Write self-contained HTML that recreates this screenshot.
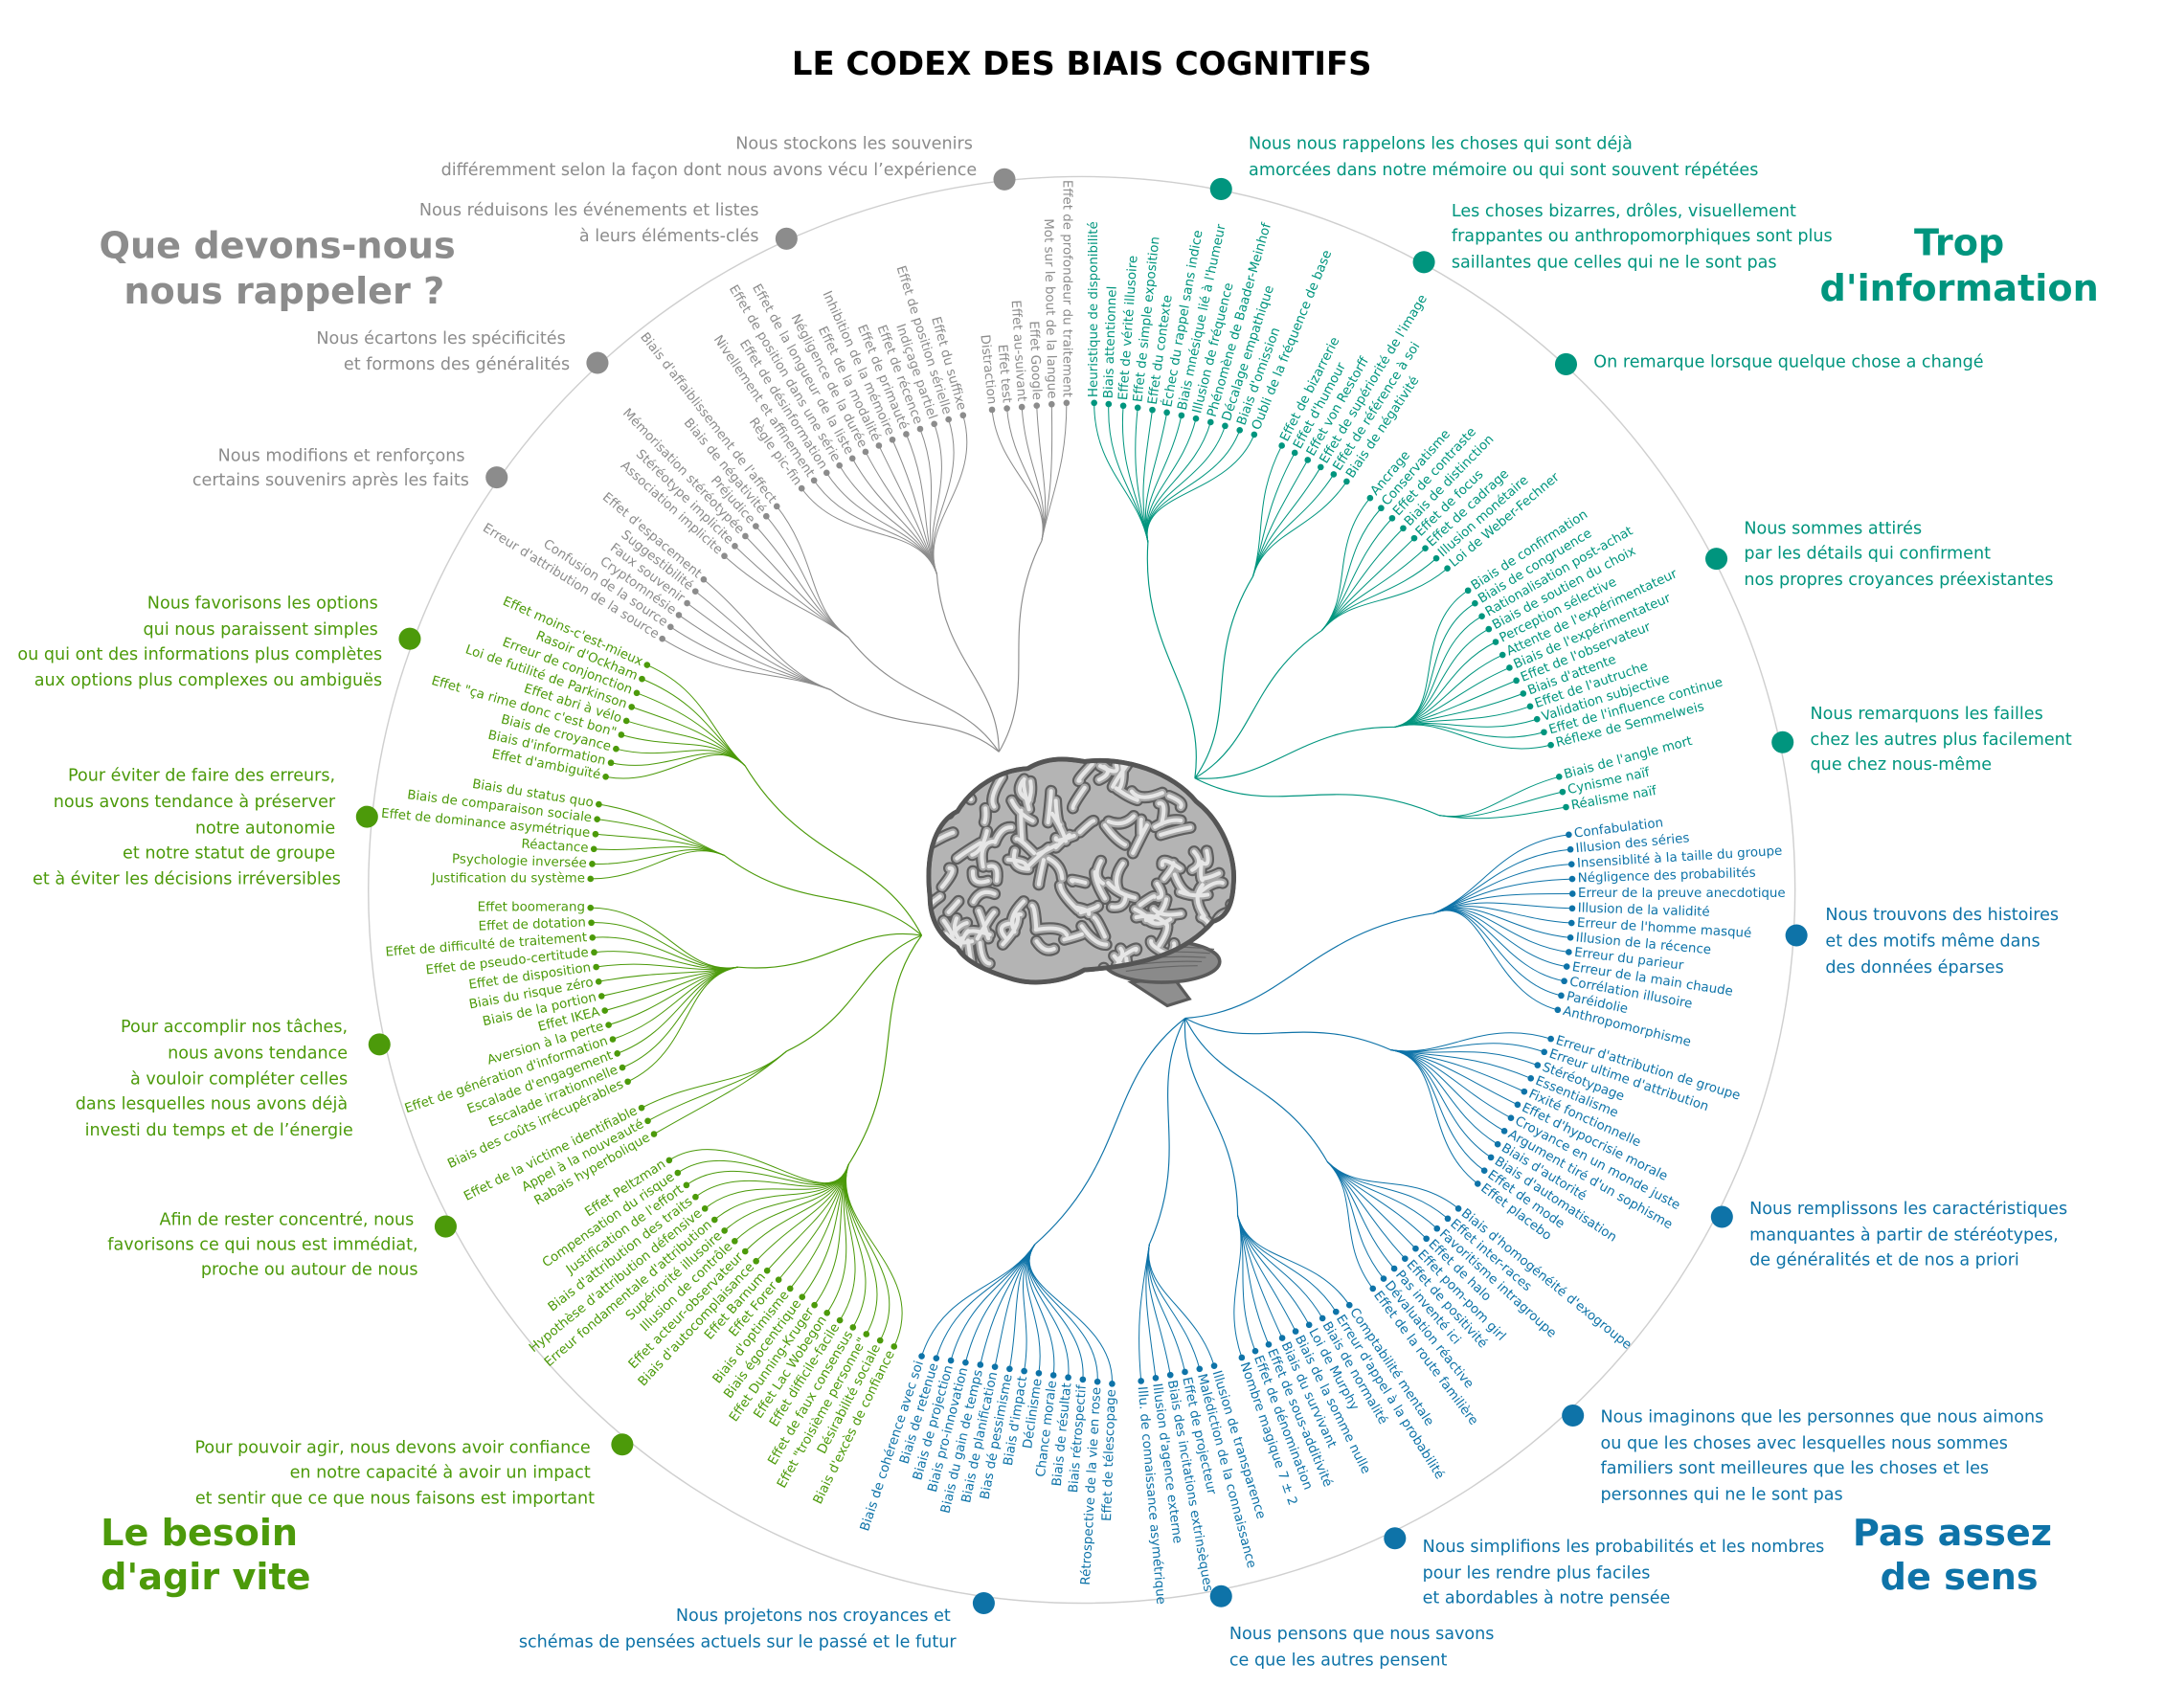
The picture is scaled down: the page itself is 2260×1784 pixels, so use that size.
<!DOCTYPE html>
<html><head><meta charset="utf-8"><title>Le codex des biais cognitifs</title>
<style>
html,body{margin:0;padding:0;background:#fff;}
svg{display:block;}
text{font-family:"DejaVu Sans","Liberation Sans",sans-serif;}
.leaf{font-size:9.3px;}
.desc{font-size:12.2px;}
.cat{font-size:26.5px;font-weight:bold;}
</style></head>
<body>
<svg id="s" xmlns="http://www.w3.org/2000/svg" width="2260" height="1784" viewBox="0 0 1568.4 1238" preserveAspectRatio="none">
<rect x="0" y="0" width="1568.4" height="1238" fill="#fff"/>
<text x="784" y="54" text-anchor="middle" style="font-size:23.5px;font-weight:bold;fill:#000">LE CODEX DES BIAIS COGNITIFS</text>
<circle cx="784" cy="645" r="517" fill="none" stroke="#cfcfcf" stroke-width="1"/>
<g id="lines"></g>
<g id="brain"></g>
<g id="labels"></g>

<text class="cat" x="201" y="187" text-anchor="middle" fill="#8c8c8c">Que devons-nous</text>
<text class="cat" x="206" y="220" text-anchor="middle" fill="#8c8c8c">nous rappeler ?</text>
<text class="cat" x="1420" y="185" text-anchor="middle" fill="#00957e">Trop</text>
<text class="cat" x="1420" y="218" text-anchor="middle" fill="#00957e">d'information</text>
<text class="cat" x="73" y="1120" fill="#4c9a0a">Le besoin</text>
<text class="cat" x="73" y="1152" fill="#4c9a0a">d'agir vite</text>
<text class="cat" x="1415" y="1120" text-anchor="middle" fill="#0e73a8">Pas assez</text>
<text class="cat" x="1420" y="1152" text-anchor="middle" fill="#0e73a8">de sens</text>

<g fill="#8c8c8c">
<text class="desc" x="705" y="108" text-anchor="end">Nous stockons les souvenirs</text>
<text class="desc" x="708" y="127" text-anchor="end">différemment selon la façon dont nous avons vécu l’expérience</text>
<text class="desc" x="550" y="156" text-anchor="end">Nous réduisons les événements et listes</text>
<text class="desc" x="550" y="175" text-anchor="end">à leurs éléments-clés</text>
<text class="desc" x="410" y="249" text-anchor="end">Nous écartons les spécificités</text>
<text class="desc" x="413" y="268" text-anchor="end">et formons des généralités</text>
<text class="desc" x="337" y="334" text-anchor="end">Nous modifions et renforçons</text>
<text class="desc" x="340" y="352" text-anchor="end">certains souvenirs après les faits</text>
<circle cx="728" cy="130" r="8"/><circle cx="570" cy="173" r="8"/><circle cx="433" cy="263" r="8"/><circle cx="360" cy="346" r="8"/>
</g>

<g fill="#00957e">
<text class="desc" x="905" y="108">Nous nous rappelons les choses qui sont déjà</text>
<text class="desc" x="905" y="127">amorcées dans notre mémoire ou qui sont souvent répétées</text>
<text class="desc" x="1052" y="157">Les choses bizarres, drôles, visuellement</text>
<text class="desc" x="1052" y="175">frappantes ou anthropomorphiques sont plus</text>
<text class="desc" x="1052" y="194">saillantes que celles qui ne le sont pas</text>
<text class="desc" x="1155" y="266">On remarque lorsque quelque chose a changé</text>
<text class="desc" x="1264" y="387">Nous sommes attirés</text>
<text class="desc" x="1264" y="405">par les détails qui confirment</text>
<text class="desc" x="1264" y="424">nos propres croyances préexistantes</text>
<text class="desc" x="1312" y="521">Nous remarquons les failles</text>
<text class="desc" x="1312" y="540">chez les autres plus facilement</text>
<text class="desc" x="1312" y="558">que chez nous-même</text>
<circle cx="885" cy="137" r="8"/><circle cx="1032" cy="190" r="8"/><circle cx="1135" cy="264" r="8"/><circle cx="1244" cy="405" r="8"/><circle cx="1292" cy="538" r="8"/>
</g>

<g fill="#4c9a0a">
<text class="desc" x="274" y="441" text-anchor="end">Nous favorisons les options</text>
<text class="desc" x="274" y="460" text-anchor="end">qui nous paraissent simples</text>
<text class="desc" x="277" y="478" text-anchor="end">ou qui ont des informations plus complètes</text>
<text class="desc" x="277" y="497" text-anchor="end">aux options plus complexes ou ambiguës</text>
<text class="desc" x="243" y="566" text-anchor="end">Pour éviter de faire des erreurs,</text>
<text class="desc" x="243" y="585" text-anchor="end">nous avons tendance à préserver</text>
<text class="desc" x="243" y="604" text-anchor="end">notre autonomie</text>
<text class="desc" x="243" y="622" text-anchor="end">et notre statut de groupe</text>
<text class="desc" x="247" y="641" text-anchor="end">et à éviter les décisions irréversibles</text>
<text class="desc" x="252" y="748" text-anchor="end">Pour accomplir nos tâches,</text>
<text class="desc" x="252" y="767" text-anchor="end">nous avons tendance</text>
<text class="desc" x="252" y="786" text-anchor="end">à vouloir compléter celles</text>
<text class="desc" x="252" y="804" text-anchor="end">dans lesquelles nous avons déjà</text>
<text class="desc" x="256" y="823" text-anchor="end">investi du temps et de l’énergie</text>
<text class="desc" x="300" y="888" text-anchor="end">Afin de rester concentré, nous</text>
<text class="desc" x="303" y="906" text-anchor="end">favorisons ce qui nous est immédiat,</text>
<text class="desc" x="303" y="924" text-anchor="end">proche ou autour de nous</text>
<text class="desc" x="428" y="1053" text-anchor="end">Pour pouvoir agir, nous devons avoir confiance</text>
<text class="desc" x="428" y="1071" text-anchor="end">en notre capacité à avoir un impact</text>
<text class="desc" x="431" y="1090" text-anchor="end">et sentir que ce que nous faisons est important</text>
<circle cx="297" cy="463" r="8"/><circle cx="266" cy="592" r="8"/><circle cx="275" cy="757" r="8"/><circle cx="323" cy="889" r="8"/><circle cx="451" cy="1047" r="8"/>
</g>

<g fill="#0e73a8">
<text class="desc" x="1323" y="667">Nous trouvons des histoires</text>
<text class="desc" x="1323" y="686">et des motifs même dans</text>
<text class="desc" x="1323" y="705">des données éparses</text>
<text class="desc" x="1268" y="880">Nous remplissons les caractéristiques</text>
<text class="desc" x="1268" y="899">manquantes à partir de stéréotypes,</text>
<text class="desc" x="1268" y="917">de généralités et de nos a priori</text>
<text class="desc" x="1160" y="1031">Nous imaginons que les personnes que nous aimons</text>
<text class="desc" x="1160" y="1050">ou que les choses avec lesquelles nous sommes</text>
<text class="desc" x="1160" y="1068">familiers sont meilleures que les choses et les</text>
<text class="desc" x="1160" y="1087">personnes qui ne le sont pas</text>
<text class="desc" x="1031" y="1125">Nous simplifions les probabilités et les nombres</text>
<text class="desc" x="1031" y="1144">pour les rendre plus faciles</text>
<text class="desc" x="1031" y="1162">et abordables à notre pensée</text>
<text class="desc" x="891" y="1188">Nous pensons que nous savons</text>
<text class="desc" x="891" y="1207">ce que les autres pensent</text>
<text class="desc" x="689" y="1175" text-anchor="end">Nous projetons nos croyances et</text>
<text class="desc" x="693" y="1194" text-anchor="end">schémas de pensées actuels sur le passé et le futur</text>
<circle cx="1302" cy="678" r="8"/><circle cx="1248" cy="882" r="8"/><circle cx="1140" cy="1026" r="8"/><circle cx="1011" cy="1115" r="8"/><circle cx="885" cy="1157" r="8"/><circle cx="713" cy="1162" r="8"/>
</g>
</svg>
<script>
(function(){
var NS='http://www.w3.org/2000/svg';
var gL=document.getElementById('lines'),gT=document.getElementById('labels'),gB=document.getElementById('brain');
function el(t,a,p){var e=document.createElementNS(NS,t);for(var k in a)e.setAttribute(k,a[k]);p.appendChild(e);return e;}
var COL={g:'#8c8c8c',t:'#00957e',gr:'#4c9a0a',b:'#0e73a8'};
var ROOT={g:[724,545],t:[866,564],gr:[668,678],b:[859,738]};
function U(a){return[Math.cos(a*Math.PI/180),Math.sin(a*Math.PI/180)];}
function norm(v){var l=Math.hypot(v[0],v[1])||1;return[v[0]/l,v[1]/l];}
var C=[
 {c:'g',hub:[755,392],p1:[719,297],p2:[773,292],a1:84,a2:90,an:'end',L:["Distraction","Effet test","Effet au-suivant","Effet Google","Mot sur le bout de la langue","Effet de profondeur du traitement"]},
 {c:'g',hub:[679,416],p1:[581,354],pm:[637,323],p2:[698,301],a1:54,a2:74,an:'end',L:["Règle pic-fin","Nivellement et affinement","Effet de désinformation","Effet de position dans une série","Effet de la longueur de la liste","Négligence de la durée","Effet de la modalité","Inhibition de la mémoire","Effet de primauté","Effet de récence","Indiçage partiel","Effet de position sérielle","Effet du suffixe"]},
 {c:'g',hub:[615,462],p1:[563,367],p2:[525,403],a1:52,a2:42,an:'end',L:["Biais d'affaiblissement de l'affect","Biais de négativité","Préjudice","Mémorisation stéréotypée","Stéréotype implicite","Association implicite"]},
 {c:'g',hub:[602,500],p1:[510,420],p2:[480,463],a1:40,a2:32,an:'end',L:["Effet d'espacement","Suggestibilité","Faux souvenir","Cryptomnésie","Confusion de la source","Erreur d'attribution de la source"]},
 {c:'t',hub:[832,393],p1:[793,292],pm:[851,300],p2:[909,315],a1:-90,a2:-68,an:'start',L:["Heuristique de disponibilité","Biais attentionnel","Effet de vérité illusoire","Effet de simple exposition","Effet du contexte","Échec du rappel sans indice","Biais mnésique lié à l'humeur","Illusion de fréquence","Phénomène de Baader-Meinhof","Décalage empathique","Biais d'omission","Oubli de la fréquence de base"]},
 {c:'t',hub:[908,418],p1:[929,323],p2:[976,349],a1:-63,a2:-56,an:'start',L:["Effet de bizarrerie","Effet d'humour","Effet von Restorff","Effet de supériorité de l'image","Effet de référence à soi","Biais de négativité"]},
 {c:'t',hub:[958,457],p1:[993,361],p2:[1049,412],a1:-50,a2:-40,an:'start',L:["Ancrage","Conservatisme","Effet de contraste","Biais de distinction","Effet de focus","Effet de cadrage","Illusion monétaire","Loi de Weber-Fechner"]},
 {c:'t',hub:[1011,527],p1:[1064,428],p2:[1124,540],a1:-33,a2:-14,an:'start',L:["Biais de confirmation","Biais de congruence","Rationalisation post-achat","Biais de soutien du choix","Perception sélective","Attente de l'expérimentateur","Biais de l'expérimentateur","Effet de l'observateur","Biais d'attente","Effet de l'autruche","Validation subjective","Effet de l'influence continue","Réflexe de Semmelweis"]},
 {c:'t',hub:[1043,591],p1:[1130,563],p2:[1135,585],a1:-15,a2:-10,an:'start',L:["Biais de l'angle mort","Cynisme naïf","Réalisme naïf"]},
 {c:'gr',hub:[540,555],p1:[469,482],p2:[439,563],a1:24,a2:11,an:'end',L:["Effet moins-c'est-mieux","Rasoir d'Ockham","Erreur de conjonction","Loi de futilité de Parkinson","Effet abri à vélo","Effet \"ça rime donc c'est bon\"","Biais de croyance","Biais d'information","Effet d'ambiguïté"]},
 {c:'gr',hub:[525,620],p1:[434,583],p2:[428,637],a1:9,a2:0,an:'end',L:["Biais du status quo","Biais de comparaison sociale","Effet de dominance asymétrique","Réactance","Psychologie inversée","Justification du système"]},
 {c:'gr',hub:[535,701],p1:[428,658],pm:[436,722],p2:[455,784],a1:0,a2:-25,an:'end',L:["Effet boomerang","Effet de dotation","Effet de difficulté de traitement","Effet de pseudo-certitude","Effet de disposition","Biais du risque zéro","Biais de la portion","Effet IKEA","Aversion à la perte","Effet de génération d'information","Escalade d'engagement","Escalade irrationnelle","Biais des coûts irrécupérables"]},
 {c:'gr',hub:[570,762],p1:[465,803],p2:[474,822],a1:-27,a2:-30,an:'end',L:["Effet de la victime identifiable","Appel à la nouveauté","Rabais hyperbolique"]},
 {c:'gr',hub:[615,844],p1:[485,841],pm:[556,921],p2:[648,976],a1:-33,a2:-64,an:'end',L:["Effet Peltzman","Compensation du risque","Justification de l'effort","Biais d'attribution des traits","Hypothèse d'attribution défensive","Erreur fondamentale d'attribution","Supériorité illusoire","Illusion de contrôle","Effet acteur-observateur","Biais d'autocomplaisance","Effet Barnum","Effet Forer","Biais d'optimisme","Biais égocentrique","Effet Dunning-Kruger","Effet Lac Wobegon","Effet difficile-facile","Effet de faux consensus","Effet \"troisième personne\"","Désirabilité sociale","Biais d'excès de confiance"]},
 {c:'b',hub:[1039,662],p1:[1137,605],pm:[1139,669],p2:[1129,732],a1:-7,a2:14,an:'start',L:["Confabulation","Illusion des séries","Insensiblité à la taille du groupe","Négligence des probabilités","Erreur de la preuve anecdotique","Illusion de la validité","Erreur de l'homme masqué","Illusion de la récence","Erreur du parieur","Erreur de la main chaude","Corrélation illusoire","Paréidolie","Anthropomorphisme"]},
 {c:'b',hub:[1008,761],p1:[1124,753],p2:[1071,858],a1:17,a2:37,an:'start',L:["Erreur d'attribution de groupe","Erreur ultime d'attribution","Stéréotypage","Essentialisme","Fixité fonctionnelle","Effet d'hypocrisie morale","Croyance en un monde juste","Argument tiré d'un sophisme","Biais d'autorité","Biais d'automatisation","Effet de mode","Effet placebo"]},
 {c:'b',hub:[962,842],p1:[1057,876],p2:[995,934],a1:39,a2:53,an:'start',L:["Biais d'homogénéité d'exogroupe","Effet inter-races","Favoritisme intragroupe","Effet de halo","Effet pom-pom girl","Effet de positivité","Pas inventé ici","Dévaluation réactive","Effet de la route familière"]},
 {c:'b',hub:[897,881],p1:[900,984],p2:[978,946],a1:71,a2:56,an:'start',L:["Nombre magique 7 ± 2","Effet de dénomination","Effet de sous-additivité","Biais du survivant","Biais de la somme nulle","Loi de Murphy","Biais de normalité","Erreur d'appel à la probabilité","Comptabilité mentale"]},
 {c:'b',hub:[833,902],p1:[827,1001],p2:[880,990],a1:85,a2:73,an:'start',L:["Illu. de connaissance asymétrique","Illusion d'agence externe","Biais des incitations extrinsèques","Effet de projecteur","Malédiction de la connaissance","Illusion de transparence"]},
 {c:'b',hub:[750,902],p1:[668,983],p2:[806,1003],a1:-72,a2:-88,an:'end',L:["Biais de cohérence avec soi","Biais de retenue","Biais de projection","Biais pro-innovation","Biais du gain de temps","Biais de planification","Bias dé pessimisme","Biais d'impact","Déclinisme","Chance morale","Biais de résultat","Biais rétrospectif","Rétrospective de la vie en rose","Effet de télescopage"]}
];
C.forEach(function(cl){
 var col=COL[cl.c],root=ROOT[cl.c],h=cl.hub,n=cl.L.length;
 var w=norm([root[0]-h[0],root[1]-h[1]]);
 var D=Math.hypot(root[0]-h[0],root[1]-h[1]);
 var pr=[-w[1],w[0]];
 el('path',{d:'M'+h[0]+','+h[1]+' C'+(h[0]+w[0]*D*0.45+pr[0]*D*0.12)+','+(h[1]+w[1]*D*0.45+pr[1]*D*0.12)+' '+(root[0]-w[0]*D*0.35-pr[0]*D*0.12)+','+(root[1]-w[1]*D*0.35-pr[1]*D*0.12)+' '+root[0]+','+root[1],fill:'none',stroke:col,'stroke-width':0.8},gL);
 for(var i=0;i<n;i++){
  var t=n>1?i/(n-1):0,p;
  if(cl.pm){var cx=2*cl.pm[0]-(cl.p1[0]+cl.p2[0])/2,cy=2*cl.pm[1]-(cl.p1[1]+cl.p2[1])/2;
   p=[(1-t)*(1-t)*cl.p1[0]+2*(1-t)*t*cx+t*t*cl.p2[0],(1-t)*(1-t)*cl.p1[1]+2*(1-t)*t*cy+t*t*cl.p2[1]];}
  else p=[cl.p1[0]+(cl.p2[0]-cl.p1[0])*t,cl.p1[1]+(cl.p2[1]-cl.p1[1])*t];
  var a=cl.a1+(cl.a2-cl.a1)*t,u=U(a);
  var v=cl.an=='start'?[-u[0],-u[1]]:u;
  var d=Math.hypot(p[0]-h[0],p[1]-h[1]);
  el('path',{d:'M'+p[0].toFixed(1)+','+p[1].toFixed(1)+' C'+(p[0]+v[0]*d*0.45).toFixed(1)+','+(p[1]+v[1]*d*0.45).toFixed(1)+' '+(h[0]-w[0]*d*0.35).toFixed(1)+','+(h[1]-w[1]*d*0.35).toFixed(1)+' '+h[0]+','+h[1],fill:'none',stroke:col,'stroke-width':0.7},gL);
  el('circle',{cx:p[0].toFixed(1),cy:p[1].toFixed(1),r:2.3,fill:col},gT);
  var off=cl.an=='start'?4:-4;
  var tx=p[0]+u[0]*off,ty=p[1]+u[1]*off;
  var tE=el('text',{x:0,y:0,'class':'leaf','text-anchor':cl.an,'dominant-baseline':'central',fill:col,transform:'translate('+tx.toFixed(1)+','+ty.toFixed(1)+') rotate('+a.toFixed(1)+')'},gT);
  tE.textContent=cl.L[i];
 }
});
// Brain
var outline='M674,650 C670,615 680,595 694,588 C705,570 725,558 745,557 C760,548 775,550 786,552 C815,548 850,560 867,581 C885,595 896,620 894,641 C893,658 888,665 879,668 C860,690 830,700 786,703 C770,712 750,714 735,710 C718,705 700,698 694,687 C680,678 674,665 674,650 Z';
var defs=el('defs',{},gB);var cp=el('clipPath',{id:'bc'},defs);el('path',{d:outline},cp);
el('path',{d:'M820,712 L850,708 L862,724 L846,729 Z',fill:'#8f8f8f',stroke:'#5a5a5a','stroke-width':2.2},gB);
el('ellipse',{cx:842,cy:697,rx:42,ry:15,fill:'#8a8a8a',stroke:'#5a5a5a','stroke-width':2.5},gB);
for(var k=0;k<5;k++)el('path',{d:'M'+(808+k*2)+','+(690+k*3.5)+' Q842,'+(684+k*4)+' '+(880-k*3)+','+(688+k*3),fill:'none',stroke:'#666','stroke-width':0.8},gB);
el('path',{d:outline,fill:'#b4b4b4',stroke:'#555','stroke-width':3.2},gB);
var g2=el('g',{'clip-path':'url(#bc)'},gB);
var seed=11;function r(){seed=(seed*9301+49297)%233280;return seed/233280;}
var segs=[];
for(var j=0;j<130;j++){
 var x=672+r()*222,y=550+r()*160;
 var L2=9+r()*14,an=r()*6.28;
 var x2=x+Math.cos(an)*L2,y2=y+Math.sin(an)*L2;
 var qx=(x+x2)/2+(r()-0.5)*18,qy=(y+y2)/2+(r()-0.5)*18;
 segs.push('M'+x.toFixed(1)+','+y.toFixed(1)+' Q'+qx.toFixed(1)+','+qy.toFixed(1)+' '+x2.toFixed(1)+','+y2.toFixed(1));
}
segs.forEach(function(d){el('path',{d:d,fill:'none',stroke:'#5e5e5e','stroke-width':9,'stroke-linecap':'round'},g2);});
segs.forEach(function(d){el('path',{d:d,fill:'none',stroke:'#a9a9a9','stroke-width':6,'stroke-linecap':'round'},g2);});
segs.forEach(function(d){el('path',{d:d,fill:'none',stroke:'#e6e6e6','stroke-width':2.8,'stroke-linecap':'round'},g2);});
el('path',{d:outline,fill:'none',stroke:'#555','stroke-width':3.4},gB);
})();
</script>
</body></html>
